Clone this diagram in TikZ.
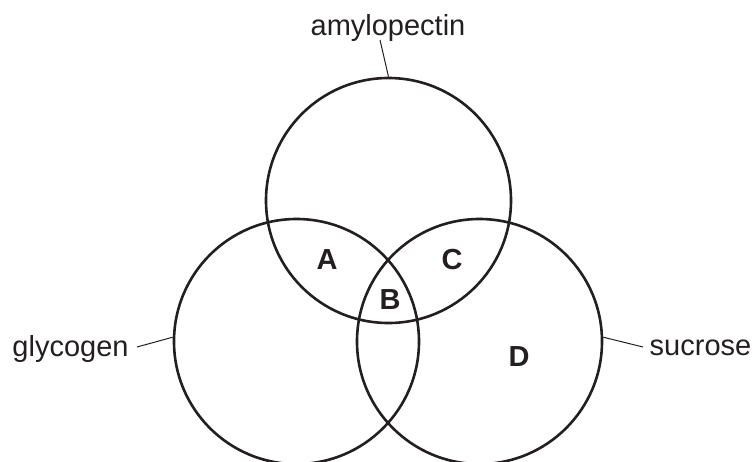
\documentclass[tikz,border=0pt]{standalone}
\usepackage{fontspec}
\setmainfont{Liberation Sans}
\definecolor{ink}{HTML}{231F20}
\begin{document}
\begin{tikzpicture}[x=1pt,y=-1pt,
  ring/.style={circle,draw=ink,line width=2.6pt,minimum size=245pt,inner sep=0pt},
  lbl/.style={text=ink,font=\fontsize{29}{29}\selectfont,inner sep=0pt,anchor=base},
  region/.style={text=ink,font=\fontsize{29}{29}\selectfont\bfseries,inner sep=0pt},
  leader/.style={draw=ink,line width=1pt}]
\useasboundingbox (0,0) rectangle (754,461);
\node[ring] (top) at (388.5,200.5) {};
\node[ring] (left) at (296.5,341.5) {};
\node[ring] (right) at (479.5,341.5) {};
\node[region] (A) at (327,260) {A};
\node[region] (B) at (390,300) {B};
\node[region] (C) at (452,260) {C};
\node[region] (D) at (519,357) {D};
\node[lbl] (amy) at (388,35) {amylopectin};
\node[lbl] (gly) at (70.5,356.5) {glycogen};
\node[lbl] (suc) at (700.5,355) {sucrose};
\coordinate (amyend) at (380,40);
\coordinate (glyend) at (137,347);
\coordinate (sucend) at (643,347);
\draw[leader] (amyend) -- (top.90);
\draw[leader] (glyend) -- (left.178);
\draw[leader] (sucend) -- (right.2);
\end{tikzpicture}
\end{document}
